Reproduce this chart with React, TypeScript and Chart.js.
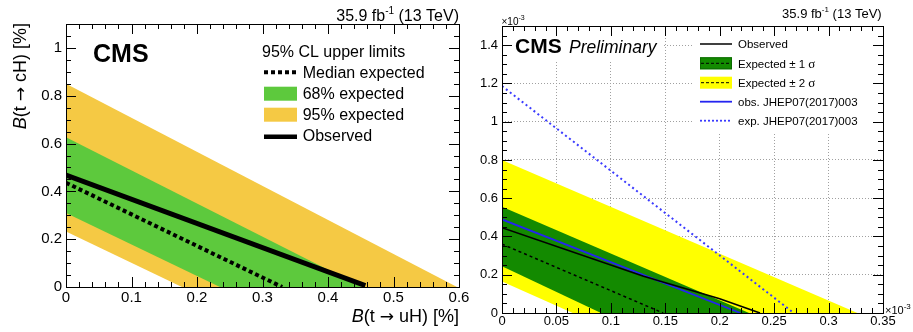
import React, { useEffect, useRef } from "react";
import { Chart, registerables } from "chart.js";

Chart.register(...registerables);

// ---------------- Data: left panel (units: %) ----------------
const L_X_TICKS = [0, 0.1, 0.2, 0.3, 0.4, 0.5, 0.6];
const L_Y_TICKS = [0, 0.2, 0.4, 0.6, 0.8, 1];
const L_X_MAX = 0.6;
const L_Y_MAX = 1.1;
const L_BAND95_UPPER = [[0, 0.85], [0.597, 0]];
const L_BAND95_LOWER = [[0, 0.232], [0.177, 0]];
const L_BAND68_UPPER = [[0, 0.626], [0.452, 0]];
const L_BAND68_LOWER = [[0, 0.31], [0.235, 0]];
const L_EXPECTED = [[0, 0.436], [0.33, 0]];
const L_OBSERVED = [[0, 0.468], [0.457, 0.006]];
const L_LEGEND_HEADER = "95% CL upper limits";
const L_LEGEND_LABELS = ["Median expected", "68% expected", "95% expected", "Observed"];

// ---------------- Data: right panel (units: ×10^-3) ----------------
const R_X_TICKS = [0, 0.05, 0.1, 0.15, 0.2, 0.25, 0.3, 0.35];
const R_Y_TICKS = [0, 0.2, 0.4, 0.6, 0.8, 1, 1.2, 1.4];
const R_X_MAX = 0.35;
const R_Y_MAX = 1.5;
const R_BAND2_UPPER = [[0, 0.8], [0.3265, 0]];
const R_BAND2_LOWER = [[0, 0.165], [0.065, 0]];
const R_BAND1_UPPER = [[0, 0.555], [0.227, 0]];
const R_BAND1_LOWER = [[0, 0.244], [0.091, 0]];
const R_EXPECTED = [[0, 0.36], [0.148, 0]];
const R_OBSERVED = [[0, 0.446], [0.13, 0.192], [0.2, 0.075], [0.237, 0]];
const R_JHEP_OBS = [[0, 0.489], [0.219, 0]];
const R_JHEP_EXP = [[0, 1.186], [0.268, 0]];
const R_LEGEND_LABELS = ["Observed", "Expected \u00b1 1 ", "Expected \u00b1 2 ", "obs. JHEP07(2017)003", "exp. JHEP07(2017)003"];

// ---------------- Styles ----------------
const FONT = '"Liberation Sans", Arial, Helvetica, sans-serif';
const ARROW_FONT = '"DejaVu Sans", sans-serif';
const SERIF = '"Liberation Serif", "Times New Roman", serif';
const L_GREEN = "#5DC93D";
const L_ORANGE = "#F5C944";
const R_GREEN = "#138A00";
const R_YELLOW = "#FFFF00";
const BLUE = "#2424F0";
const BLUE_D = "#3A3AFF";

type P = { x: number; y: number };
const pts = (a: number[][]): P[] => a.map(([x, y]) => ({ x, y }));
const band = (up: number[][], lo: number[][]): P[] => pts([...up, ...[...lo].reverse()]);
const fmt = (v: number) => String(Number(Number(v).toFixed(3)));

type Seg = { t: string; font: string; dy?: number };
function drawRich(ctx: CanvasRenderingContext2D, segs: Seg[], x: number, y: number, align: "left" | "right") {
  ctx.save();
  ctx.textBaseline = "alphabetic";
  ctx.textAlign = "left";
  ctx.fillStyle = "#000";
  let total = 0;
  const widths = segs.map((s) => {
    ctx.font = s.font;
    const w = ctx.measureText(s.t).width;
    total += w;
    return w;
  });
  let cx = align === "right" ? x - total : x;
  segs.forEach((s, i) => {
    ctx.font = s.font;
    ctx.fillText(s.t, cx, y + (s.dy || 0));
    cx += widths[i];
  });
  ctx.restore();
}

function axisTitle(name: string): Seg[] {
  return [
    { t: "B", font: `italic 18px ${FONT}` },
    { t: "(t ", font: `18px ${FONT}` },
    { t: "\u2192", font: `17px ${ARROW_FONT}` },
    { t: ` ${name}) [%]`, font: `18px ${FONT}` },
  ];
}

function drawFrameTicks(chart: any, xTicks: number[], xMax: number, xSub: number, yTicks: number[], yMax: number, ySub: number) {
  const { ctx, chartArea: a, scales } = chart;
  const xs = scales.x;
  const ys = scales.y;
  const major = 10;
  const minor = 5;
  ctx.save();
  ctx.strokeStyle = "#000";
  ctx.lineWidth = 1;
  ctx.beginPath();
  const xStep = (xTicks[1] - xTicks[0]) / xSub;
  const nx = Math.floor(xMax / xStep + 1e-6);
  for (let i = 0; i <= nx; i++) {
    const px = Math.round(xs.getPixelForValue(i * xStep)) + 0.5;
    const len = i % xSub === 0 ? major : minor;
    ctx.moveTo(px, a.bottom);
    ctx.lineTo(px, a.bottom - len);
    ctx.moveTo(px, a.top);
    ctx.lineTo(px, a.top + len);
  }
  const yStep = (yTicks[1] - yTicks[0]) / ySub;
  const ny = Math.floor(yMax / yStep + 1e-6);
  for (let i = 0; i <= ny; i++) {
    const py = Math.round(ys.getPixelForValue(i * yStep)) + 0.5;
    const len = i % ySub === 0 ? major : minor;
    ctx.moveTo(a.left, py);
    ctx.lineTo(a.left + len, py);
    ctx.moveTo(a.right, py);
    ctx.lineTo(a.right - len, py);
  }
  ctx.stroke();
  ctx.strokeRect(Math.round(a.left) + 0.5, Math.round(a.top) + 0.5, Math.round(a.right - a.left), Math.round(a.bottom - a.top));
  ctx.restore();
}

function axis(min: number, max: number, ticks: number[], size: number, fontSize: number, pad: number, isX: boolean, grid: boolean) {
  return {
    type: "linear",
    min,
    max,
    afterBuildTicks: (s: any) => {
      s.ticks = ticks.map((v) => ({ value: v }));
    },
    afterFit: (s: any) => {
      if (isX) {
        s.height = size;
        s.paddingLeft = 0;
        s.paddingRight = 0;
      } else {
        s.width = size;
        s.paddingTop = 0;
        s.paddingBottom = 0;
      }
    },
    grid: grid
      ? { display: true, drawTicks: false, color: "#a0a0a0", lineWidth: 1 }
      : { display: false, drawTicks: false },
    border: { display: false, dash: grid ? [1, 2] : [] },
    ticks: {
      color: "#000",
      font: { family: FONT, size: fontSize },
      padding: pad,
      autoSkip: false,
      maxRotation: 0,
      minRotation: 0,
      includeBounds: false,
      callback: (v: any) => fmt(v),
    },
  };
}

const lineDs = (data: number[][], color: string, width: number, dash: number[], order: number) => ({
  data: pts(data),
  borderColor: color,
  borderWidth: width,
  borderDash: dash,
  fill: false,
  order,
  clip: 0,
  pointRadius: 0,
  tension: 0,
});
const bandDs = (up: number[][], lo: number[][], color: string, order: number) => ({
  data: band(up, lo),
  borderColor: "rgba(0,0,0,0)",
  borderWidth: 0,
  backgroundColor: color,
  fill: "shape",
  order,
  clip: 0,
  pointRadius: 0,
  tension: 0,
});

function leftConfig(): any {
  const decor = {
    id: "decorLeft",
    afterDraw(chart: any) {
      const ctx: CanvasRenderingContext2D = chart.ctx;
      drawFrameTicks(chart, L_X_TICKS, L_X_MAX, 5, L_Y_TICKS, L_Y_MAX, 4);
      // lumi
      drawRich(ctx, [
        { t: "35.9 fb", font: `16px ${FONT}` },
        { t: "-1", font: `10px ${FONT}`, dy: -7 },
        { t: " (13 TeV)", font: `16px ${FONT}` },
      ], 459, 20.5, "right");
      // CMS
      drawRich(ctx, [{ t: "CMS", font: `bold 25px ${FONT}` }], 93, 61.5, "left");
      // axis titles
      drawRich(ctx, axisTitle("uH"), 459, 322, "right");
      ctx.save();
      ctx.translate(26, 23);
      ctx.rotate(-Math.PI / 2);
      drawRich(ctx, axisTitle("cH"), 0, 0, "right");
      ctx.restore();
      // legend
      const sx0 = 264, sx1 = 297, tx = 302.7;
      drawRich(ctx, [{ t: L_LEGEND_HEADER, font: `16px ${FONT}` }], 262, 57, "left");
      ctx.save();
      ctx.strokeStyle = "#000";
      ctx.lineWidth = 4;
      ctx.setLineDash([4, 3]);
      ctx.beginPath();
      ctx.moveTo(sx0, 72.3);
      ctx.lineTo(sx1, 72.3);
      ctx.stroke();
      ctx.setLineDash([]);
      ctx.fillStyle = L_GREEN;
      ctx.fillRect(sx0, 86.7, sx1 - sx0, 14);
      ctx.fillStyle = L_ORANGE;
      ctx.fillRect(sx0, 107.7, sx1 - sx0, 14);
      ctx.lineWidth = 4.5;
      ctx.beginPath();
      ctx.moveTo(sx0, 136.7);
      ctx.lineTo(sx1, 136.7);
      ctx.stroke();
      ctx.restore();
      const bases = [77.5, 98.5, 119.5, 141];
      L_LEGEND_LABELS.forEach((l, i) => drawRich(ctx, [{ t: l, font: `16px ${FONT}` }], tx, bases[i], "left"));
    },
  };
  return {
    type: "line",
    data: {
      datasets: [
        lineDs(L_OBSERVED, "#000", 5, [], 1),
        lineDs(L_EXPECTED, "#000", 4, [4, 3], 2),
        bandDs(L_BAND68_UPPER, L_BAND68_LOWER, L_GREEN, 3),
        bandDs(L_BAND95_UPPER, L_BAND95_LOWER, L_ORANGE, 4),
      ],
    },
    options: {
      animation: false,
      responsive: false,
      maintainAspectRatio: false,
      events: [],
      layout: { padding: { left: 0, top: 24, right: 16, bottom: 0 } },
      plugins: { legend: { display: false }, tooltip: { enabled: false } },
      scales: {
        x: axis(0, L_X_MAX, L_X_TICKS, 45, 15, 2, true, false),
        y: axis(0, L_Y_MAX, L_Y_TICKS, 66, 15, 4, false, false),
      },
    },
    plugins: [decor],
  };
}

function rightConfig(): any {
  const decor = {
    id: "decorRight",
    afterDraw(chart: any) {
      const ctx: CanvasRenderingContext2D = chart.ctx;
      const a = chart.chartArea;
      // white boxes behind CMS label and legend
      ctx.save();
      ctx.fillStyle = "#fff";
      ctx.fillRect(a.left + 1, a.top + 1, 203 - a.left, 60 - a.top);
      ctx.fillRect(233, a.top + 1, a.right - 1 - 233, 133 - a.top);
      ctx.restore();
      drawFrameTicks(chart, R_X_TICKS, R_X_MAX, 5, R_Y_TICKS, R_Y_MAX, 4);
      // lumi
      drawRich(ctx, [
        { t: "35.9 fb", font: `13px ${FONT}` },
        { t: "-1", font: `8px ${FONT}`, dy: -6 },
        { t: " (13 TeV)", font: `13px ${FONT}` },
      ], 421.7, 17.5, "right");
      // exponent labels
      drawRich(ctx, [
        { t: "\u00d710", font: `10px ${FONT}` },
        { t: "-3", font: `7px ${FONT}`, dy: -5 },
      ], 41.5, 25, "left");
      drawRich(ctx, [
        { t: "\u00d710", font: `11px ${FONT}` },
        { t: "-3", font: `8px ${FONT}`, dy: -5 },
      ], 425, 313.5, "left");
      // CMS Preliminary
      drawRich(ctx, [{ t: "CMS", font: `bold 21px ${FONT}` }], 55, 52.5, "left");
      drawRich(ctx, [{ t: "Preliminary", font: `italic 17.5px ${FONT}` }], 109, 52.5, "left");
      // legend
      const sx0 = 240, sx1 = 272, tx = 278;
      const rows = [44, 63.3, 82.7, 101.7, 120.7];
      ctx.save();
      ctx.lineWidth = 1.5;
      ctx.strokeStyle = "#000";
      ctx.beginPath();
      ctx.moveTo(sx0, rows[0]);
      ctx.lineTo(sx1, rows[0]);
      ctx.stroke();
      // ±1σ
      ctx.fillStyle = R_GREEN;
      ctx.fillRect(sx0, rows[1] - 6, sx1 - sx0, 12);
      ctx.lineWidth = 1;
      ctx.strokeStyle = "#0B6B00";
      ctx.strokeRect(sx0 + 0.5, rows[1] - 5.5, sx1 - sx0 - 1, 11);
      // ±2σ
      ctx.fillStyle = R_YELLOW;
      ctx.fillRect(sx0, rows[2] - 6, sx1 - sx0, 12);
      ctx.strokeStyle = "#000";
      ctx.setLineDash([3, 2]);
      ctx.beginPath();
      ctx.moveTo(sx0 + 1, rows[1]);
      ctx.lineTo(sx1 - 1, rows[1]);
      ctx.moveTo(sx0 + 1, rows[2]);
      ctx.lineTo(sx1 - 1, rows[2]);
      ctx.stroke();
      ctx.setLineDash([]);
      ctx.lineWidth = 1.8;
      ctx.strokeStyle = BLUE;
      ctx.beginPath();
      ctx.moveTo(sx0, rows[3]);
      ctx.lineTo(sx1, rows[3]);
      ctx.stroke();
      ctx.strokeStyle = BLUE_D;
      ctx.setLineDash([2, 2]);
      ctx.beginPath();
      ctx.moveTo(sx0, rows[4]);
      ctx.lineTo(sx1, rows[4]);
      ctx.stroke();
      ctx.restore();
      R_LEGEND_LABELS.forEach((l, i) => {
        const segs: Seg[] = [{ t: l, font: `11.5px ${FONT}` }];
        if (i === 1 || i === 2) segs.push({ t: "\u03c3", font: `13px ${SERIF}` });
        drawRich(ctx, segs, tx, rows[i] + 4.3, "left");
      });
    },
  };
  return {
    type: "line",
    data: {
      datasets: [
        lineDs(R_OBSERVED, "#000", 1.6, [], 1),
        lineDs(R_JHEP_OBS, BLUE, 1.8, [], 2),
        lineDs(R_EXPECTED, "#000", 1.5, [3, 3], 3),
        lineDs(R_JHEP_EXP, BLUE_D, 2, [2, 3], 4),
        bandDs(R_BAND1_UPPER, R_BAND1_LOWER, R_GREEN, 5),
        bandDs(R_BAND2_UPPER, R_BAND2_LOWER, R_YELLOW, 6),
      ],
    },
    options: {
      animation: false,
      responsive: false,
      maintainAspectRatio: false,
      events: [],
      layout: { padding: { left: 0, top: 26, right: 30, bottom: 0 } },
      plugins: { legend: { display: false }, tooltip: { enabled: false } },
      scales: {
        x: axis(0, R_X_MAX, R_X_TICKS, 19, 13, 1, true, true),
        y: axis(0, R_Y_MAX, R_Y_TICKS, 42, 13, 4, false, true),
      },
    },
    plugins: [decor],
  };
}

function Panel({ left, width, height, make }: { left: number; width: number; height: number; make: () => any }) {
  const ref = useRef<HTMLCanvasElement | null>(null);
  useEffect(() => {
    if (!ref.current) return;
    const chart = new Chart(ref.current, make());
    return () => chart.destroy();
  }, []);
  return (
    <canvas
      ref={ref}
      width={width}
      height={height}
      style={{ position: "absolute", left, top: 0, width, height }}
    />
  );
}

export default function App() {
  return (
    <div style={{ position: "absolute", left: 0, top: 0, width: 913, height: 332, background: "#fff", overflow: "hidden" }}>
      <Panel left={0} width={475} height={332} make={leftConfig} />
      <Panel left={460} width={453} height={332} make={rightConfig} />
    </div>
  );
}
